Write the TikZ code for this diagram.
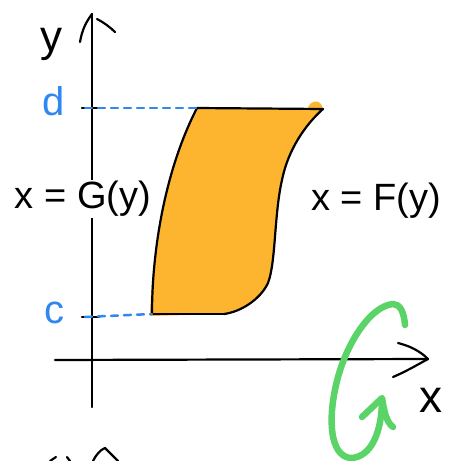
\documentclass[tikz,border=0pt]{standalone}
\usepackage{fontspec}
\setmainfont{Liberation Sans}
\definecolor{fillorange}{HTML}{FDB52F}
\definecolor{tickblue}{HTML}{2F88F0}
\definecolor{loopgreen}{HTML}{5AD466}
\begin{document}
\begin{tikzpicture}[x=1pt,y=-1pt,
  ink/.style={line width=2.2pt, line cap=round, line join=round, black},
  blueink/.style={line width=2.5pt, line cap=round, tickblue},
  bluedash/.style={blueink, dash pattern=on 7pt off 6pt},
  greenink/.style={line width=6.5pt, line cap=round, line join=round, loopgreen},
  lbl/.style={inner sep=1pt, font=\fontsize{38}{40}\selectfont},
  bluelbl/.style={inner sep=0pt, text=tickblue, font=\fontsize{40}{42}\selectfont}]
\useasboundingbox (0,0) rectangle (451,461);
% named points
\coordinate (ytop) at (92,14);
\coordinate (ybot) at (92,407);
\coordinate (xleft) at (55,360);
\coordinate (xright) at (428,359);
\coordinate (dtick) at (82,108);
\coordinate (ctick) at (82,317);
\coordinate (TL) at (197,108);
\coordinate (TR) at (323,109);
\coordinate (BL) at (152,314);
\coordinate (BR) at (224,314);
% axes
\draw[ink] (ybot) -- (ytop);
\draw[ink] (80,42) .. controls (82,30) and (86,22) .. (ytop);
\draw[ink] (97,19) .. controls (103,22) and (110,27) .. (115,32);
\draw[ink] (xleft) -- (xright);
\draw[ink] (398,343) .. controls (410,346) and (420,351) .. (xright);
\draw[ink] (393,377) .. controls (405,372) and (417,365) .. (xright);
% label covering the y axis
\node[lbl, fill=white] (G) at (83,199) {x = G(y)};
\node[lbl] (F) at (376,201) {x = F(y)};
\node[lbl, font=\fontsize{44}{46}\selectfont] (ylab) at (52,44) {y};
\node[lbl, font=\fontsize{46}{48}\selectfont] (xlab) at (431,400) {x};
% region
\fill[fillorange] (TL) -- (308,108) .. controls (310,101) and (318,99) .. (321,104) -- (TR)
  .. controls (305,125) and (288,150) .. (282,180)
  .. controls (274,215) and (276,262) .. (268,283)
  .. controls (260,300) and (240,312) .. (BR)
  -- (150,316)
  .. controls (152,250) and (165,170) .. (TL) -- cycle;
\draw[ink] (TL) -- (TR)
  .. controls (305,125) and (288,150) .. (282,180)
  .. controls (274,215) and (276,262) .. (268,283)
  .. controls (260,300) and (240,312) .. (BR);
\draw[ink] (BR) -- (BL);
\draw[ink] (BL) .. controls (152,250) and (165,170) .. (TL);
% ticks and dashed guides
\draw[ink] (dtick) -- (100,108);
\draw[ink] (ctick) -- (99,317);
\draw[bluedash] (85,108) -- (TL);
\draw[bluedash] (85,317) -- (BL);
\node[bluelbl] (d) at (54,101) {d};
\node[bluelbl] (c) at (55,313) {c};
% green rotation curl
\draw[greenink] (405,325) .. controls (404,312) and (400,304) .. (393,304)
  .. controls (370,306) and (345,345) .. (336,385)
  .. controls (328,420) and (330,455) .. (350,458)
  .. controls (372,458) and (382,430) .. (382,400);
\draw[greenink] (362,417) -- (382,398) .. controls (384,410) and (386,422) .. (393,427);
% partial strokes cut at the bottom edge
\draw[ink] (50,461) -- (56,457);
\draw[ink] (67,457) -- (70,461);
\draw[ink] (93,461) .. controls (96,455) and (100,450) .. (105,448) -- (118,461);
\end{tikzpicture}
\end{document}
